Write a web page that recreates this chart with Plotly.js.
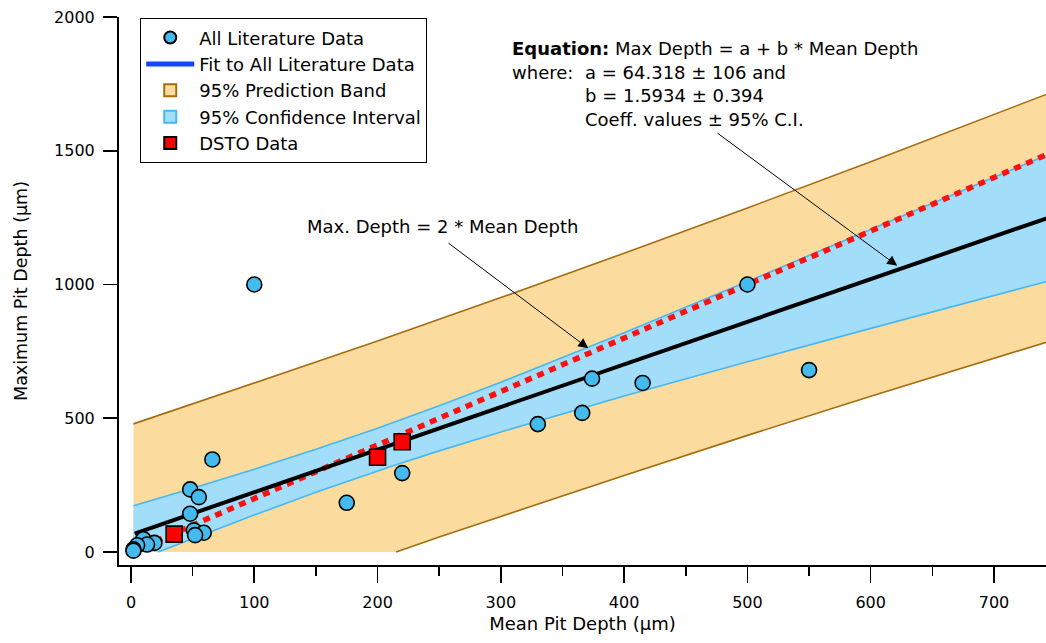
<!DOCTYPE html>
<html>
<head>
<meta charset="utf-8">
<script src="https://cdn.plot.ly/plotly-3.0.1.min.js"></script>
<style>html,body{margin:0;padding:0;background:#fff;}#chart{width:1046px;height:643px;}</style>
</head>
<body>
<div id="chart"></div>
<script>
// Literature data (mean pit depth, max pit depth) in µm
const litMean = [100, 500, 550, 415, 374, 366, 330, 220, 175, 66, 48, 55, 48, 51, 59, 52, 10, 19, 13, 5, 2, 2];
const litMax  = [1000, 1000, 680, 632, 648, 520, 478, 295, 184, 346, 234, 205, 143, 81, 72, 63, 48, 34, 28, 25, 10, 5];

// DSTO data
const dstoMean = [35, 200, 220];
const dstoMax  = [67, 354, 412];

// Fit line (Max = a + b*Mean) end points
const fitX = [3, 750];
const fitY = [69, 1259];

// Max depth = 2 * mean depth reference line
const ratioX = [20, 750];
const ratioY = [40, 1500];

// Bands (clipped at zero as drawn)
const bandX   = [2, 22, 50, 100, 150, 200, 215, 250, 300, 400, 500, 600, 750];
const ciUpper = [173, 200, 238, 309, 384, 463, 488, 547, 635, 820, 1011, 1205, 1498];
const ciLower = [0, 0, 50, 138, 223, 303, 326, 378, 449, 583, 711, 836, 1020];
const piUpper = [479, 510, 553, 631, 710, 789, 813, 870, 951, 1117, 1286, 1459, 1724];
const piLower = [0, 0, 0, 0, 0, 0, 0, 56, 133, 286, 436, 582, 795];

const xTicks = [0, 100, 200, 300, 400, 500, 600, 700];
const yTicks = [0, 500, 1000, 1500, 2000];

function aboveZero(xs, ys) {
  const ox = [], oy = [];
  for (let i = 0; i < xs.length; i++) {
    if (ys[i] > 0 || (i + 1 < ys.length && ys[i + 1] > 0)) { ox.push(xs[i]); oy.push(ys[i]); }
  }
  return {x: ox, y: oy};
}

const FONT = 'DejaVu Sans, Liberation Sans, Arial, sans-serif';
const ORANGE = '#fcdc9e', BROWN = '#a56c0e';
const CIFILL = '#a2ddfa', CILINE = '#47b8ef';
const CIRC = '#44bbee';

const piLo = aboveZero(bandX, piLower);
const ciLo = aboveZero(bandX, ciLower);

const traces = [
  {x: bandX, y: piLower, mode: 'lines', line: {width: 0}, showlegend: false, hoverinfo: 'skip'},
  {x: bandX, y: piUpper, mode: 'lines', fill: 'tonexty', fillcolor: ORANGE, line: {color: BROWN, width: 1.6}, showlegend: false, hoverinfo: 'skip'},
  {x: piLo.x, y: piLo.y, mode: 'lines', line: {color: BROWN, width: 1.6}, showlegend: false, hoverinfo: 'skip'},
  {x: bandX, y: ciLower, mode: 'lines', line: {width: 0}, showlegend: false, hoverinfo: 'skip'},
  {x: bandX, y: ciUpper, mode: 'lines', fill: 'tonexty', fillcolor: CIFILL, line: {color: CILINE, width: 1.6}, showlegend: false, hoverinfo: 'skip'},
  {x: ciLo.x, y: ciLo.y, mode: 'lines', line: {color: CILINE, width: 1.6}, showlegend: false, hoverinfo: 'skip'},
  {x: ratioX, y: ratioY, mode: 'lines', line: {color: '#ff1010', width: 5.5, dash: '7px,6px'}, showlegend: false},
  {x: fitX, y: fitY, mode: 'lines', line: {color: '#000', width: 4}, showlegend: false},
  {x: litMean, y: litMax, mode: 'markers', name: 'All Literature Data', legendrank: 1,
   marker: {symbol: 'circle', size: 15, color: CIRC, line: {color: '#000', width: 1.6}}},
  {x: dstoMean, y: dstoMax, mode: 'markers', name: 'DSTO Data', legendrank: 5,
   marker: {symbol: 'square', size: 16, color: '#ff0000', line: {color: '#000', width: 1.6}}},
  {x: [null], y: [null], mode: 'lines', name: 'Fit to All Literature Data', legendrank: 2,
   line: {color: '#1446ff', width: 3}},
  {x: [null], y: [null], mode: 'markers', name: '95% Prediction Band', legendrank: 3,
   marker: {symbol: 'square', size: 12, color: ORANGE, line: {color: BROWN, width: 2}}},
  {x: [null], y: [null], mode: 'markers', name: '95% Confidence Interval', legendrank: 4,
   marker: {symbol: 'square', size: 12, color: CIFILL, line: {color: CILINE, width: 2}}}
];

const annFont = {family: FONT, size: 18, color: '#000'};
const layout = {
  width: 1046, height: 643,
  margin: {l: 119, r: 0, t: 17, b: 78},
  paper_bgcolor: '#fff', plot_bgcolor: '#fff',
  font: {family: FONT, size: 18, color: '#000'},
  hovermode: false,
  showlegend: true,
  legend: {x: 0.0227, y: 0.998, xanchor: 'left', yanchor: 'top', bordercolor: '#000', borderwidth: 1.2,
           bgcolor: '#fff', font: {family: FONT, size: 18}, itemsizing: 'constant', itemwidth: 48,
           traceorder: 'normal', tracegroupgap: 0},
  xaxis: {range: [-9.73, 742.2], tickvals: xTicks, ticktext: xTicks.map(String), ticks: 'outside',
          ticklen: 16, tickwidth: 1.6, tickcolor: '#000', showgrid: false, zeroline: false,
          showline: true, linecolor: '#000', linewidth: 2, mirror: false, ticklabelstandoff: 6,
          tickfont: {family: FONT, size: 16},
          minor: {dtick: 50, tick0: 0, ticks: 'outside', ticklen: 9, tickwidth: 1.6, tickcolor: '#000', showgrid: false},
          title: {text: 'Mean Pit Depth (μm)', font: {family: FONT, size: 18}, standoff: 6}},
  yaxis: {range: [-48.6, 2000], tickvals: yTicks, ticktext: yTicks.map(String), ticks: 'outside',
          ticklen: 14, tickwidth: 1.6, tickcolor: '#000', showgrid: false, zeroline: false,
          showline: true, linecolor: '#000', linewidth: 2, mirror: false, ticklabelstandoff: 5,
          tickfont: {family: FONT, size: 16},
          title: {text: 'Maximum Pit Depth (μm)', font: {family: FONT, size: 17.5}, standoff: 22}},
  annotations: [
    {x: 141.1, y: 1215, xref: 'x', yref: 'y', text: 'Max. Depth = 2 * Mean Depth', showarrow: false,
     xanchor: 'left', yanchor: 'middle', font: annFont},
    {x: 370.9, y: 761.5, ax: 256.3, ay: 1159, xref: 'x', yref: 'y', axref: 'x', ayref: 'y', text: '',
     showarrow: true, arrowhead: 2, arrowsize: 2, arrowwidth: 1, arrowcolor: '#000'},
    {x: 307.4, y: 1884, xref: 'x', yref: 'y', text: '<b>Equation:</b> Max Depth = a + b * Mean Depth', showarrow: false,
     xanchor: 'left', yanchor: 'middle', font: annFont},
    {x: 307.4, y: 1790.7, xref: 'x', yref: 'y', text: 'where:', showarrow: false,
     xanchor: 'left', yanchor: 'middle', font: annFont},
    {x: 366.6, y: 1790.7, xref: 'x', yref: 'y', text: 'a = 64.318 ± 106 and', showarrow: false,
     xanchor: 'left', yanchor: 'middle', font: annFont},
    {x: 366.6, y: 1704.7, xref: 'x', yref: 'y', text: 'b = 1.5934 ± 0.394', showarrow: false,
     xanchor: 'left', yanchor: 'middle', font: annFont},
    {x: 366.6, y: 1615, xref: 'x', yref: 'y', text: 'Coeff. values ± 95% C.I.', showarrow: false,
     xanchor: 'left', yanchor: 'middle', font: annFont},
    {x: 621.5, y: 1070.3, ax: 474.5, ay: 1570, xref: 'x', yref: 'y', axref: 'x', ayref: 'y', text: '',
     showarrow: true, arrowhead: 2, arrowsize: 2, arrowwidth: 1, arrowcolor: '#000'}
  ]
};

Plotly.newPlot('chart', traces, layout, {displayModeBar: false, staticPlot: true});
</script>
</body>
</html>
